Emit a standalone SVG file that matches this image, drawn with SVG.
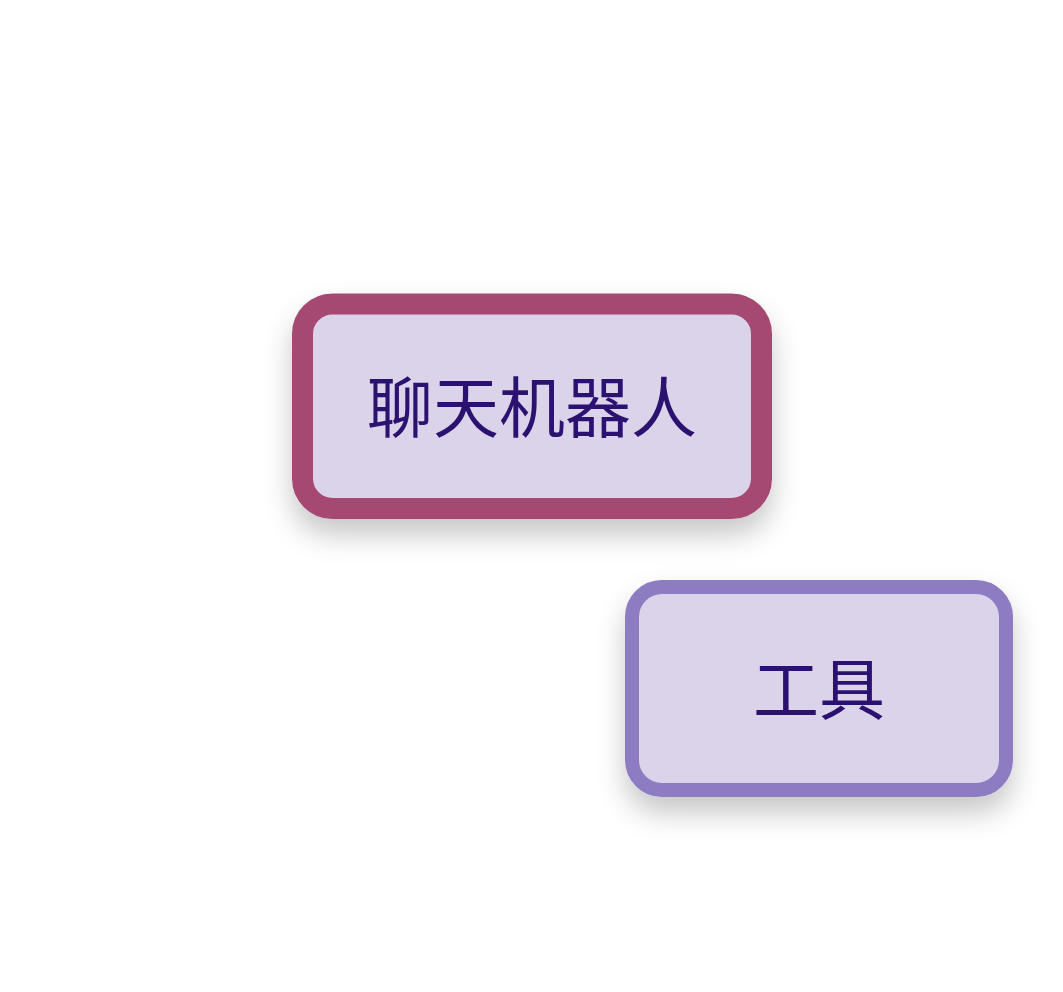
<svg xmlns="http://www.w3.org/2000/svg" width="1063" height="992" viewBox="0 0 1063 992">
<defs>
<filter id="shadow" x="-25%" y="-40%" width="150%" height="190%">
<feDropShadow dx="0" dy="16" stdDeviation="14" flood-color="#000" flood-opacity="0.22"/>
</filter>
<style>
.box{fill:#dbd3ea;filter:url(#shadow)}
.lbl{font-family:"Noto Sans CJK SC","Noto Sans",sans-serif;font-size:66px;fill:#2b1170;text-anchor:middle}
</style>
</defs>
<rect width="1063" height="992" fill="#ffffff"/>
<g id="connectors"></g>
<g id="chatbot">
<rect class="box" x="302.5" y="304" width="459" height="204.5" rx="30" ry="30" stroke="#a64a72" stroke-width="21"/>
<text class="lbl" x="532" y="432">聊天机器人</text>
</g>
<g id="tools">
<rect class="box" x="632" y="587" width="374" height="203" rx="30" ry="30" stroke="#8d7bc2" stroke-width="14"/>
<text class="lbl" x="819" y="714">工具</text>
</g>
</svg>
